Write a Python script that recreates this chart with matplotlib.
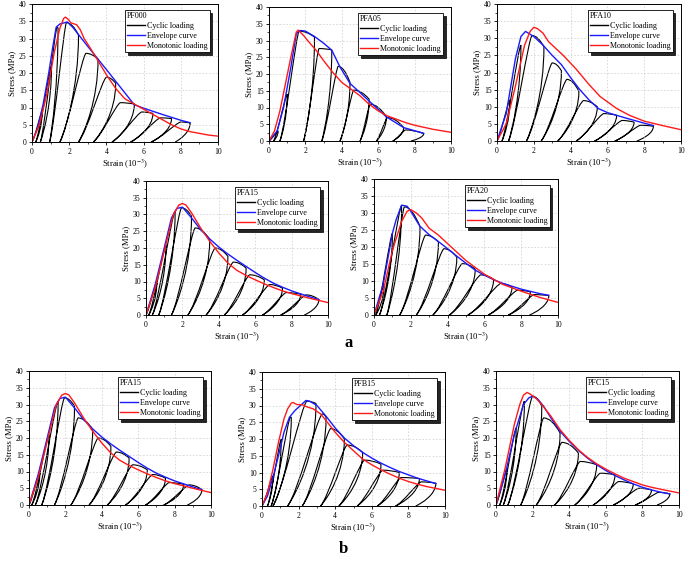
import matplotlib
matplotlib.use("Agg")
import matplotlib.pyplot as plt
from matplotlib.path import Path
from matplotlib.patches import PathPatch
from matplotlib.lines import Line2D
from matplotlib.ticker import MultipleLocator

plt.rcParams['font.family'] = ['Liberation Serif', 'DejaVu Serif']
plt.rcParams['mathtext.fontset'] = 'stix'

# ---------------- data ----------------
# PF000
PF000_env_x = [0, 0.3, 0.6, 0.9, 1.1, 1.3, 1.5, 1.9, 2.2, 3.0, 4.0, 5.5, 6.0, 7.0, 8.0, 8.5]
PF000_env_y = [0, 4, 11, 20, 27, 33.3, 34.2, 34.8, 33.2, 27.7, 21.0, 10.8, 9.8, 8.0, 6.3, 5.6]
PF000_mono_x = [0, 0.4, 0.8, 1.2, 1.5, 1.7, 1.8, 1.95, 2.1, 2.4, 2.6, 2.8, 3.1, 3.5, 4.0, 4.5,
                5.0, 5.5, 6.0, 6.5, 7.0, 7.5, 8.0, 8.5, 9.0, 9.5, 10.0]
PF000_mono_y = [0, 5, 14, 26, 33, 35.8, 36.2, 35.5, 34.5, 34, 32.5, 30, 27.5, 24, 19.5, 15.5,
                12.5, 11, 9.5, 8, 6.5, 5, 3.8, 3, 2.5, 2, 1.7]
PF000_pk_x = [0.55, 1.05, 1.35, 1.85, 2.9, 4.0, 4.75, 5.9, 6.9, 8.0]
PF000_pk_y = [9, 22, 33.3, 34.6, 25.7, 18.8, 11.4, 8.7, 7.0, 5.8]
PF000_un_x = [0.55, 1.05, 1.4, 2.5, 3.55, 4.5, 5.5, 6.5, 7.5, 8.5]
PF000_un_y = [9, 22, 33, 31, 24, 17, 11, 8.3, 6.8, 5.5]
PF000_res = [0.2, 0.45, 0.95, 1.5, 2.5, 3.3, 4.3, 5.3, 6.4, 7.7]

# PFA05
PFA05_env_x = [0, 0.45, 0.8, 1.2, 1.5, 1.7, 2.0, 2.5, 3.0, 3.45, 3.9, 4.45, 5.45, 6.45, 7.4, 8.5]
PFA05_env_y = [0, 3, 10, 22, 32, 33, 32.8, 31.2, 29.2, 27.1, 22.1, 17.2, 12.2, 7.2, 4.0, 2.3]
PFA05_mono_x = [0, 0.3, 0.6, 0.9, 1.2, 1.5, 1.6, 1.9, 2.2, 2.6, 3.0, 3.5, 4.0, 4.5, 5.0, 5.5,
                6.0, 6.5, 7.0, 7.5, 8.0, 9.0, 10.0]
PFA05_mono_y = [0, 3, 9, 17, 25, 32.5, 33.1, 31.5, 29.5, 27, 24, 20.5, 17.5, 15.5, 13.5, 11,
                9, 7.5, 6.5, 5.5, 4.7, 3.5, 2.6]
PFA05_pk_x = [0.5, 1.0, 1.65, 2.75, 3.8, 4.65, 5.55, 6.5, 7.5]
PFA05_pk_y = [3, 14, 32.8, 27.6, 22.3, 15.2, 11.0, 7.0, 3.3]
PFA05_un_x = [0.5, 1.0, 2.5, 3.45, 4.45, 5.5, 6.45, 7.4, 8.5]
PFA05_un_y = [3, 14, 31, 27.2, 17.5, 12.5, 7.2, 4.0, 2.2]
PFA05_res = [0.25, 0.6, 1.9, 2.9, 3.9, 5.0, 5.9, 6.8, 7.8]

# PFA10
PFA10_env_x = [0, 0.5, 1.0, 1.3, 1.55, 2.0, 2.5, 3.0, 3.5, 4.0, 4.5, 5.0, 5.5, 6.0, 7.0, 8.0, 8.5]
PFA10_env_y = [0, 8, 24, 30.5, 32, 30.5, 28, 25, 22.3, 18.5, 15, 12, 9.5, 8.3, 6.7, 5.2, 4.5]
PFA10_mono_x = [0, 0.5, 1.0, 1.5, 1.8, 2.0, 2.2, 2.5, 2.8, 3.2, 3.6, 4.3, 5.0, 5.6, 6.5, 7.2,
                8.0, 9.0, 10.0]
PFA10_mono_y = [0, 5, 16, 28, 32, 33.2, 32.8, 31.5, 29, 27, 25, 21, 16.5, 13, 9.5, 7.5,
                5.8, 4.5, 3.3]
PFA10_pk_x = [0.7, 1.3, 1.9, 3.0, 3.8, 4.7, 5.8, 6.8, 7.8]
PFA10_pk_y = [12, 28, 30.8, 22.8, 18.0, 11.8, 8.0, 6.0, 4.6]
PFA10_un_x = [0.7, 1.3, 2.55, 3.5, 4.45, 5.45, 6.5, 7.45, 8.5]
PFA10_un_y = [12, 28, 27.5, 20.5, 14.5, 10.0, 7.5, 5.5, 4.3]
PFA10_res = [0.27, 0.63, 1.6, 2.4, 3.3, 4.3, 5.3, 6.4, 7.6]

# PFA15 (same specimen shown in a and b)
PFA15_env_x = [0, 0.5, 1.0, 1.4, 1.7, 2.0, 2.5, 3.0, 3.5, 4.0, 4.5, 5.0, 5.5, 6.0, 6.5, 7.0,
               7.5, 8.0, 8.5, 9.0, 9.5]
PFA15_env_y = [0, 9, 20, 29, 31.8, 32.2, 29, 25.5, 22.7, 20.3, 18.2, 16.3, 14.5, 12.7, 11, 9.5,
               8.3, 7.2, 6.3, 5.4, 4.6]
PFA15_mono_x = [0, 0.5, 1.0, 1.5, 1.8, 2.0, 2.2, 2.5, 3.0, 3.5, 4.0, 4.5, 5.0, 5.5, 6.0, 6.5,
                7.0, 7.5, 8.0, 9.0, 10.0]
PFA15_mono_y = [0, 8, 19, 30, 32.8, 33.3, 32.8, 30.5, 26, 22, 18.5, 15.5, 13.3, 11.8, 10.5, 9.3,
                8.2, 7.2, 6.4, 5, 3.7]
PFA15_pk_x = [0.6, 1.1, 1.6, 1.95, 2.7, 3.8, 4.8, 5.7, 6.8, 7.7, 8.8]
PFA15_pk_y = [10, 21, 31, 32.0, 26, 20, 15.8, 12, 9.1, 6.7, 6.0]
PFA15_un_x = [0.6, 1.1, 1.6, 2.5, 3.5, 4.5, 5.5, 6.5, 7.5, 8.5, 9.5]
PFA15_un_y = [10, 21, 31, 29.5, 22.5, 17.5, 14, 10.5, 8.0, 6.2, 4.6]
PFA15_res = [0.15, 0.35, 0.7, 1.4, 2.3, 3.3, 4.3, 5.3, 6.4, 7.4, 8.7]

# PFA20
PFA20_env_x = [0, 0.5, 1.0, 1.2, 1.5, 1.8, 2.0, 2.3, 2.5, 3.0, 3.5, 4.0, 4.5, 5.0, 5.5, 6.0,
               6.5, 7.0, 8.0, 9.0, 9.5]
PFA20_env_y = [0, 9, 24, 28, 32.3, 32, 30.5, 27.8, 26.1, 23.6, 21.6, 19.5, 17.3, 15.2, 13.2, 11.7,
               10.4, 9.3, 7.6, 6.3, 5.8]
PFA20_mono_x = [0, 0.5, 1.0, 1.5, 1.8, 2.0, 2.3, 2.6, 3.0, 3.5, 4.0, 4.5, 5.0, 5.5, 6.0, 6.5,
                7.0, 7.5, 8.0, 9.0, 10.0]
PFA20_mono_y = [0, 7, 19, 27.5, 30.5, 31, 30, 28.5, 25.5, 23.5, 21, 18.5, 16, 14, 12, 10.5,
                9, 8, 7, 5.2, 3.7]
PFA20_pk_x = [0.55, 1.0, 1.5, 1.65, 2.8, 3.8, 4.8, 5.8, 6.9, 7.8, 8.7]
PFA20_pk_y = [9, 24, 32.2, 31.8, 23.5, 19.5, 15.1, 11.8, 9.3, 7.3, 6.0]
PFA20_un_x = [0.55, 1.0, 1.5, 2.5, 3.5, 4.5, 5.5, 6.5, 7.5, 8.5, 9.5]
PFA20_un_y = [9, 24, 32, 26, 21.5, 17, 13.5, 10.5, 8.2, 6.8, 5.7]
PFA20_res = [0.1, 0.3, 0.7, 1.4, 2.3, 3.2, 4.1, 5.1, 6.2, 7.3, 8.45]

# PFB15
PFB15_env_x = [0, 0.3, 0.6, 0.9, 1.2, 1.5, 1.8, 2.1, 2.4, 2.6, 3.0, 3.5, 4.0, 4.5, 5.0, 5.5,
               6.0, 6.5, 7.0, 7.5, 8.0, 8.5, 9.0, 9.5]
PFB15_env_y = [0, 3, 8.5, 15, 22, 26.5, 28.5, 30, 31.5, 31.3, 30, 26.8, 23.3, 20.3, 18, 16,
               14.3, 12.8, 11.5, 10.3, 9.3, 8.3, 7.5, 6.7]
PFB15_mono_x = [0, 0.3, 0.6, 0.9, 1.2, 1.4, 1.6, 1.7, 1.9, 2.2, 2.5, 2.8, 3.2, 3.5, 4.0, 4.5,
                5.0, 5.5, 6.0, 6.5, 7.0, 7.5, 8.0, 8.5, 9.0, 10.0]
PFB15_mono_y = [0, 4, 11, 19, 26, 29, 30.7, 30.9, 30.3, 30.2, 29.5, 29, 27.5, 25.5, 22, 19,
                16.5, 14, 12.3, 10.8, 9.5, 8.3, 7.3, 6.5, 5.8, 4.7]
PFB15_pk_x = [0.6, 1.05, 1.55, 2.45, 3.3, 3.75, 4.65, 5.6, 6.6, 7.6, 8.7]
PFB15_pk_y = [9, 20, 26.5, 31.3, 27.5, 23.1, 18.2, 13.7, 10.7, 8.5, 7.2]
PFB15_un_x = [0.6, 1.05, 1.6, 2.95, 3.5, 4.5, 5.5, 6.5, 7.5, 8.6, 9.5]
PFB15_un_y = [9, 20, 26.5, 30.6, 26.5, 20, 16, 12.5, 10, 8.2, 6.8]
PFB15_res = [0.3, 0.5, 0.6, 1.4, 2.2, 3.2, 4.2, 5.2, 6.3, 7.3, 8.4]

# PFC15
PFC15_env_x = [0, 0.5, 1.0, 1.5, 1.8, 2.0, 2.3, 2.6, 3.0, 3.5, 4.0, 4.5, 5.0, 5.5, 6.0, 6.5,
               7.0, 7.5, 8.0, 8.5, 9.0, 9.5]
PFC15_env_y = [0, 9, 21, 30, 32, 32.5, 31.5, 29.5, 26, 22, 19, 16.3, 14, 12, 10.3, 8.8,
               7.5, 6.3, 5.3, 4.5, 3.8, 3.3]
PFC15_mono_x = [0, 0.5, 1.0, 1.3, 1.5, 1.7, 1.9, 2.2, 2.5, 3.0, 3.5, 4.0, 4.5, 5.0, 5.5, 6.0,
                6.5, 7.0, 7.5, 8.0, 8.5, 9.0, 10.0]
PFC15_mono_y = [0, 11, 24, 30, 32.8, 33.6, 33, 31.8, 30, 26.5, 22.5, 19.3, 16.5, 14.2, 12.3, 10.7,
                9.3, 8, 7, 6, 5.3, 4.7, 3.6]
PFC15_pk_x = [0.6, 1.1, 1.55, 2.0, 2.6, 3.6, 4.6, 5.7, 6.7, 7.8, 8.9]
PFC15_pk_y = [11, 23, 31, 32.5, 26, 18.7, 13, 9.5, 7, 5, 3.8]
PFC15_un_x = [0.6, 1.1, 1.55, 2.5, 3.5, 4.5, 5.5, 6.5, 7.5, 8.5, 9.5]
PFC15_un_y = [11, 23, 31, 29.5, 21.5, 15.5, 12, 9, 6.3, 4.5, 3.3]
PFC15_res = [0.2, 0.4, 0.65, 1.35, 2.2, 3.2, 4.3, 5.3, 6.4, 7.6, 8.8]

names = ['PF000', 'PFA05', 'PFA10', 'PFA15', 'PFA20', 'PFA15', 'PFB15', 'PFC15']

# axes boxes in pixels (left, top, right, bottom) of a 685x564 figure
boxes = [(32, 4, 218, 142), (269, 7, 451, 141), (497, 4, 681, 141),
         (146, 181, 328, 315), (374, 179, 558, 315),
         (29, 371, 211, 505), (262, 372, 445, 506), (496, 371, 679, 505)]


def cycle_path(pk_x, pk_y, un_x, un_y, res):
    # reload -> cap -> unload, repeated, as bezier segments
    verts = [(0, 0)]
    codes = [Path.MOVETO]
    r = 0.0
    for px, py, ux, uy, rx in zip(pk_x, pk_y, un_x, un_y, res):
        d = px - r
        verts += [(r + 0.3 * d, 0.15 * py), (px - 0.15 * d, 0.97 * py), (px, py)]
        codes += [Path.CURVE4] * 3
        if ux > px + 0.02:
            verts += [(px + 0.5 * (ux - px), py), (ux, uy)]
            codes += [Path.CURVE3] * 2
        d2 = ux - rx
        verts += [(ux, 0.5 * uy), (rx + 0.3 * d2, 0.12 * uy), (rx, 0)]
        codes += [Path.CURVE4] * 3
        r = rx
    return Path(verts, codes)


W, H = 685, 564
fig = plt.figure(figsize=(W / 100, H / 100), dpi=100)

for name, (x0, y0, x1, y1) in zip(names, boxes):
    g = globals()
    ax = fig.add_axes([x0 / W, 1 - y1 / H, (x1 - x0) / W, (y1 - y0) / H])

    ax.add_patch(PathPatch(cycle_path(g[name + '_pk_x'], g[name + '_pk_y'], g[name + '_un_x'],
                                      g[name + '_un_y'], g[name + '_res']),
                           fill=False, edgecolor='black', lw=0.8))
    ax.plot(g[name + '_env_x'], g[name + '_env_y'], color='#1a1aff', lw=1.0)
    ax.plot(g[name + '_mono_x'], g[name + '_mono_y'], color='#ff1a1a', lw=1.0)

    ax.set_xlim(0, 10)
    ax.set_ylim(0, 40)
    ax.xaxis.set_major_locator(MultipleLocator(2))
    ax.xaxis.set_minor_locator(MultipleLocator(1))
    ax.yaxis.set_major_locator(MultipleLocator(5))
    ax.yaxis.set_minor_locator(MultipleLocator(2.5))
    ax.tick_params(which='major', direction='out', length=2.5, width=0.6, labelsize=5.5, pad=1.5)
    ax.tick_params(which='minor', direction='out', length=1.5, width=0.5)
    ax.grid(True, ls=(0, (3, 3)), lw=0.4, color='#c0c0c0')
    for s in ax.spines.values():
        s.set_linewidth(0.7)
    ax.set_xlabel('Strain (10$^{-3}$)', fontsize=6.2, labelpad=2)
    ax.set_ylabel('Stress (MPa)', fontsize=6.2, labelpad=2)

    handles = [Line2D([], [], color='black', lw=1.0),
               Line2D([], [], color='#1a1aff', lw=1.0),
               Line2D([], [], color='#ff1a1a', lw=1.0)]
    leg = ax.legend(handles, ['Cyclic loading', 'Envelope curve', 'Monotonic loading'],
                    title=name, alignment='left', loc='upper right',
                    bbox_to_anchor=(0.955, 0.955), fontsize=5.8, title_fontsize=5.8,
                    frameon=True, fancybox=False, shadow={'color': 'black', 'alpha': 0.85},
                    handlelength=2.2, handletextpad=0.3, borderpad=0.25, labelspacing=0.25,
                    borderaxespad=0)
    leg.get_frame().set_edgecolor('black')
    leg.get_frame().set_linewidth(0.6)

fig.text(349 / W, 1 - 343 / H, 'a', fontsize=12, fontweight='bold', ha='center', va='center')
fig.text(343 / W, 1 - 549 / H, 'b', fontsize=12, fontweight='bold', ha='center', va='center')

fig.savefig('out.png', dpi=100)
